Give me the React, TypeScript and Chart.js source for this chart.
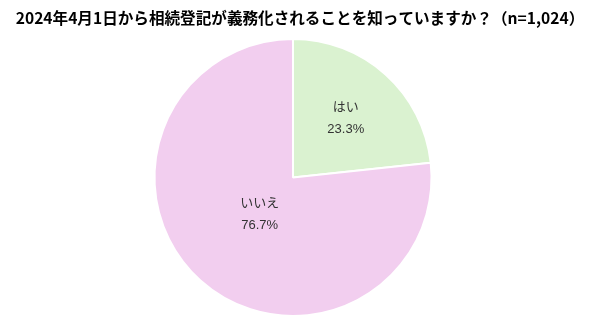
import React, { useEffect, useRef } from "react";
import { Chart, registerables } from "chart.js";

Chart.register(...registerables);

const titleText = "2024年4月1日から相続登記が義務化されることを知っていますか？（n=1,024）";
const categories = ["はい", "いいえ"];
const values = [23.3, 76.7];
const colors = ["#DAF2D0", "#F2CEEF"];
const labelRadiusFractions = [0.57, 0.36];

const labelFont = "13px Helvetica, Arial, 'Liberation Sans', 'Noto Sans CJK JP', sans-serif";
const titleFont = "bold 15.6px 'Noto Sans CJK JP', sans-serif";

const customPlugin = {
  id: "customLabels",
  afterDraw(chart: any) {
    const ctx = chart.ctx;
    ctx.save();
    ctx.font = titleFont;
    ctx.fillStyle = "#000";
    ctx.textAlign = "center";
    ctx.textBaseline = "middle";
    ctx.fillText(titleText, 300, 18);
    const meta = chart.getDatasetMeta(0);
    meta.data.forEach((arc: any, i: number) => {
      const { x, y, startAngle, endAngle, outerRadius } = arc.getProps(
        ["x", "y", "startAngle", "endAngle", "outerRadius"],
        true
      );
      const mid = (startAngle + endAngle) / 2;
      const r = outerRadius * labelRadiusFractions[i];
      const cx = x + Math.cos(mid) * r;
      const cy = y + Math.sin(mid) * r;
      ctx.font = labelFont;
      ctx.fillStyle = "#333";
      ctx.fillText(categories[i], cx, cy - 11);
      ctx.fillText(values[i].toFixed(1) + "%", cx, cy + 11);
    });
    ctx.restore();
  },
};

export default function App() {
  const ref = useRef<HTMLCanvasElement | null>(null);
  useEffect(() => {
    if (!ref.current) return;
    const chart = new Chart(ref.current, {
      type: "pie",
      data: {
        labels: categories,
        datasets: [
          {
            data: values,
            backgroundColor: colors,
            borderColor: "#ffffff",
            borderWidth: 2,
          },
        ],
      },
      options: {
        animation: false,
        responsive: false,
        layout: { padding: { top: 38, bottom: 6, left: 0, right: 14 } },
        plugins: {
          legend: { display: false },
          title: { display: false },
          tooltip: { enabled: false },
        },
      },
      plugins: [customPlugin],
    });
    return () => chart.destroy();
  }, []);
  return (
    <div style={{ position: "absolute", left: 0, top: 0, width: 600, height: 323, background: "#fff" }}>
      <canvas ref={ref} width={600} height={323} style={{ width: 600, height: 323 }} />
    </div>
  );
}
